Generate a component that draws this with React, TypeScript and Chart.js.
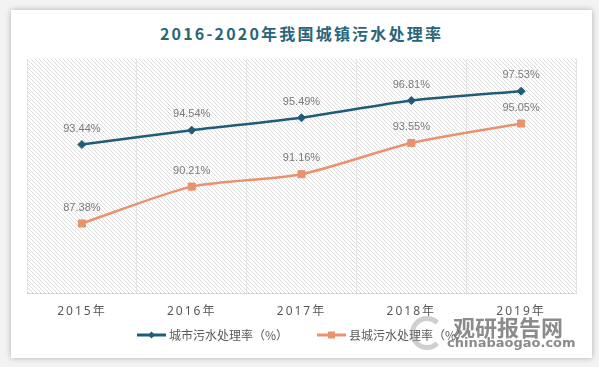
import React, { useEffect, useRef } from 'react';
import { Chart, registerables } from 'chart.js';

Chart.register(...registerables);

const titleText = '2016-2020年我国城镇污水处理率';
const categories = ['2015年', '2016年', '2017年', '2018年', '2019年'];
const cityRates = [93.44, 94.54, 95.49, 96.81, 97.53];
const countyRates = [87.38, 90.21, 91.16, 93.55, 95.05];
const seriesNames = ['城市污水处理率（%）', '县城污水处理率（%）'];
const yMin = 82;
const yMax = 100;

const BLUE = '#1f5c7a';
const ORANGE = '#e8936d';

function makeHatch(ctx: CanvasRenderingContext2D) {
  const c = document.createElement('canvas');
  c.width = 4;
  c.height = 4;
  const g = c.getContext('2d')!;
  g.fillStyle = '#ffffff';
  g.fillRect(0, 0, 4, 4);
  g.fillStyle = '#dcdcdc';
  for (let i = 0; i < 4; i++) g.fillRect(i, i, 1, 1);
  return ctx.createPattern(c, 'repeat');
}

const chartPlugin = {
  id: 'hatchAndLabels',
  beforeDraw(chart: any) {
    const { ctx, chartArea: a } = chart;
    ctx.save();
    const p = makeHatch(ctx);
    if (p) ctx.fillStyle = p;
    ctx.fillRect(a.left, a.top, a.right - a.left, a.bottom - a.top);
    ctx.restore();
    (ctx as any).letterSpacing = '2px';
  },
  beforeDatasetsDraw(chart: any) {
    (chart.ctx as any).letterSpacing = '0px';
  },
  afterDatasetsDraw(chart: any) {
    const ctx = chart.ctx;
    ctx.save();
    ctx.font = '11px "Liberation Sans", Arial, sans-serif';
    ctx.fillStyle = '#7a7a7a';
    ctx.textAlign = 'center';
    ctx.textBaseline = 'middle';
    chart.data.datasets.forEach((ds: any, di: number) => {
      const meta = chart.getDatasetMeta(di);
      meta.data.forEach((pt: any, i: number) => {
        ctx.fillText(Number(ds.data[i]).toFixed(2) + '%', pt.x, pt.y - 16);
      });
    });
    ctx.restore();
  },
};

function LegendSymbol({ color, shape }: { color: string; shape: 'diamond' | 'square' }) {
  return (
    <svg width="29" height="10" style={{ display: 'block' }}>
      <line x1="0" y1="5" x2="29" y2="5" stroke={color} strokeWidth="3" />
      {shape === 'diamond' ? (
        <polygon points="14.5,1.5 18,5 14.5,8.5 11,5" fill={color} />
      ) : (
        <rect x="11" y="1.5" width="7" height="7" fill={color} />
      )}
    </svg>
  );
}

export default function App() {
  const canvasRef = useRef<HTMLCanvasElement>(null);

  useEffect(() => {
    if (!canvasRef.current) return;
    const chart = new Chart(canvasRef.current, {
      type: 'line',
      data: {
        labels: categories,
        datasets: [
          {
            label: seriesNames[0],
            data: cityRates,
            borderColor: BLUE,
            backgroundColor: BLUE,
            borderWidth: 2.5,
            pointStyle: 'rectRot',
            pointRadius: 4,
            pointBorderWidth: 1,
            tension: 0.2,
          },
          {
            label: seriesNames[1],
            data: countyRates,
            borderColor: ORANGE,
            backgroundColor: ORANGE,
            borderWidth: 2.5,
            pointStyle: 'rect',
            pointRadius: 5,
            pointBorderWidth: 1,
            tension: 0.25,
          },
        ],
      },
      options: {
        responsive: true,
        maintainAspectRatio: false,
        animation: false,
        layout: { padding: { left: 27, right: 23, top: 59, bottom: 37 } },
        plugins: {
          legend: { display: false },
          title: { display: false },
          tooltip: { enabled: false },
        },
        scales: {
          x: {
            type: 'category',
            offset: true,
            grid: { display: true, offset: true, color: '#e3e3e3', drawTicks: false },
            border: { display: true, color: '#d9d9d9' },
            ticks: {
              color: '#595959',
              padding: 11,
              font: { size: 12, family: '"Noto Sans", "Noto Sans CJK SC", sans-serif' },
            },
          },
          y: { display: false, min: yMin, max: yMax },
        },
      },
      plugins: [chartPlugin],
    });
    return () => chart.destroy();
  }, []);

  return (
    <div style={{ position: 'absolute', left: 0, top: 0, width: 599, height: 367, background: '#f3f3f3', overflow: 'hidden' }}>
      <div
        style={{
          position: 'absolute',
          left: 11,
          top: 10,
          width: 581,
          height: 348,
          background: '#ffffff',
          boxShadow: '0 0 6px rgba(0,0,0,0.28)',
        }}
      />
      <div
        style={{
          position: 'absolute',
          left: 0,
          top: 22,
          width: 603,
          textAlign: 'center',
          font: 'bold 16px "Noto Sans CJK SC", sans-serif',
          letterSpacing: '2.2px',
          color: '#2a6579',
          lineHeight: '22px',
        }}
      >
        {titleText}
      </div>
      <div style={{ position: 'absolute', left: 0, top: 0, width: 599, height: 367 }}>
        <canvas ref={canvasRef} />
      </div>
      <div
        style={{
          position: 'absolute',
          left: 3,
          top: 327,
          width: 599,
          display: 'flex',
          justifyContent: 'center',
          alignItems: 'center',
          font: '12px "Noto Sans CJK SC", sans-serif',
          color: '#595959',
          lineHeight: '16px',
        }}
      >
        <div style={{ display: 'flex', alignItems: 'center' }}>
          <LegendSymbol color={BLUE} shape="diamond" />
          <span style={{ marginLeft: 3 }}>{seriesNames[0]}</span>
        </div>
        <div style={{ display: 'flex', alignItems: 'center', marginLeft: 29 }}>
          <LegendSymbol color={ORANGE} shape="square" />
          <span style={{ marginLeft: 3 }}>{seriesNames[1]}</span>
        </div>
      </div>
      <div style={{ position: 'absolute', left: 410, top: 316, width: 34, height: 34, borderRadius: '50%', border: '5px solid rgba(150,150,150,0.45)', borderRightColor: 'transparent', boxSizing: 'border-box' }} />
      <div
        style={{
          position: 'absolute',
          left: 453,
          top: 313,
          font: 'bold 22px "Noto Sans CJK SC", sans-serif',
          color: 'rgba(110,110,110,0.8)',
          lineHeight: '26px',
          letterSpacing: '0px',
        }}
      >
        观研报告网
      </div>
      <div
        style={{
          position: 'absolute',
          left: 447,
          top: 335,
          font: 'bold 13px "DejaVu Sans", sans-serif',
          color: 'rgba(110,110,110,0.8)',
          lineHeight: '16px',
        }}
      >
        chinabaogao.com
      </div>
    </div>
  );
}
